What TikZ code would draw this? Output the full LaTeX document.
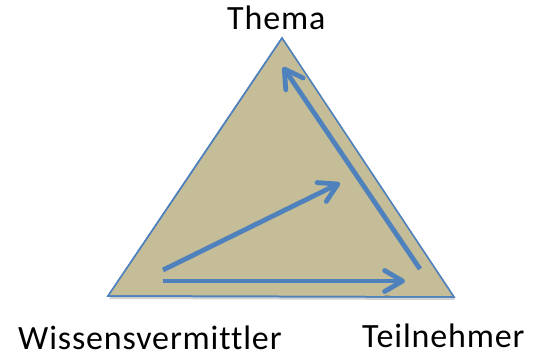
\documentclass[tikz,border=0pt]{standalone}
\usepackage{fontspec}
\setmainfont[LetterSpace=2.5,Ligatures=NoCommon]{Carlito}
\usetikzlibrary{arrows.meta}
\definecolor{tanfill}{HTML}{C4BD97}
\definecolor{officeblue}{HTML}{4F81BD}
\tikzset{
  label text/.style={inner sep=0pt, font=\fontsize{34}{40}\selectfont, text=black},
  tri/.style={fill=tanfill, draw=officeblue, line width=1.5pt, line join=miter},
  triShadow/.style={fill=black, opacity=0.18},
  flow/.style={draw=officeblue, line width=4.8pt, line cap=butt,
    -{Straight Barb[length=18pt,width=21pt,line cap=round,line join=round]}},
  flowShadow/.style={draw=black, opacity=0.18, line width=4.8pt,
    -{Straight Barb[length=18pt,width=21pt,line cap=round,line join=round]}}
}
\begin{document}
\begin{tikzpicture}[x=1pt,y=-1pt]
\useasboundingbox (0,0) rectangle (539,357);
% corners
\coordinate (apex) at (282,38);
\coordinate (bl) at (108,296);
\coordinate (br) at (454,297);
% arrow ends
\coordinate (a1s) at (163,281);
\coordinate (a1e) at (405,281);
\coordinate (a2s) at (163,270);
\coordinate (a2e) at (340,183);
\coordinate (a3s) at (420,269);
\coordinate (a3e) at (283,67);
% shadows
\fill[triShadow] ([shift={(1,3)}]apex) -- ([shift={(1,3)}]br) -- ([shift={(1,3)}]bl) -- cycle;
\draw[tri] (apex) -- (br) -- (bl) -- cycle;
\draw[flowShadow] ([shift={(2,3)}]a1s) -- ([shift={(2,3)}]a1e);
\draw[flowShadow] ([shift={(2,3)}]a2s) -- ([shift={(2,3)}]a2e);
\draw[flowShadow] ([shift={(2,3)}]a3s) -- ([shift={(2,3)}]a3e);
\fill[tanfill] ([shift={(3,3)}]apex) -- ([shift={(-2,-2)}]br) -- ([shift={(2,-2)}]bl) -- cycle;
\draw[tri, fill=none] (apex) -- (br) -- (bl) -- cycle;
% arrows
\draw[flow] (a1s) -- (a1e);
\draw[flow] (a2s) -- (a2e);
\draw[flow] (a3s) -- (a3e);
% labels
\node[label text, anchor=base west] (thema) at (227,29.5) {Thema};
\node[label text, anchor=base west] (wv) at (18,349) {Wissensvermittler};
\node[label text, anchor=base west] (tn) at (362,347) {Teilnehmer};
\end{tikzpicture}
\end{document}
